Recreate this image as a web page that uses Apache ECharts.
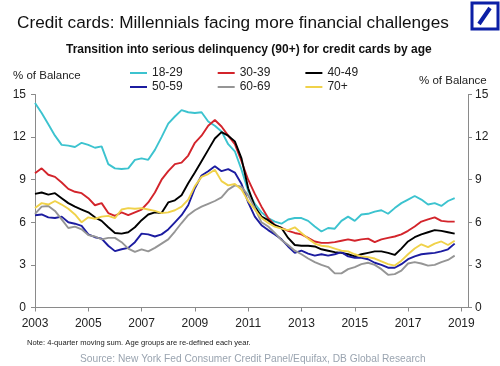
<!DOCTYPE html>
<html>
<head>
<meta charset="utf-8">
<script src="https://cdn.jsdelivr.net/npm/echarts@6/dist/echarts.min.js"></script>
<style>
html,body{margin:0;padding:0;background:#fff;}
#chart{width:500px;height:366px;}
</style>
</head>
<body>
<div id="chart"></div>
<script>
// Quarterly categories 2003Q1 .. 2019Q2 (axis runs slightly past 2019)
var categories = [];
for (var y = 2003; y <= 2019; y++) {
  for (var q = 1; q <= 4; q++) {
    if (y === 2019 && q > 2) break;
    categories.push(y + 'Q' + q);
  }
}
var seriesNames = ['18-29', '30-39', '40-49', '50-59', '60-69', '70+'];
var yTicks = [0, 3, 6, 9, 12, 15];

var age18_29 = [14.4, 13.7, 12.9, 12.1, 11.45, 11.4, 11.3, 11.6, 11.45, 11.25,
  11.35, 10.1, 9.8, 9.75, 9.8, 10.4, 10.5, 10.4, 11.1, 12.0,
  12.95, 13.45, 13.9, 13.75, 13.7, 13.75, 13.1, 12.8, 12.4, 11.5,
  11.0, 9.7, 8.2, 7.3, 6.7, 6.3, 6.05, 5.9, 6.2, 6.3,
  6.3, 6.1, 5.7, 5.35, 5.6, 5.55, 6.1, 6.4, 6.1, 6.55,
  6.6, 6.75, 6.85, 6.6, 7.0, 7.35, 7.6, 7.85, 7.6, 7.25,
  7.35, 7.15, 7.5, 7.7];
var age30_39 = [9.45, 9.8, 9.35, 9.2, 8.8, 8.35, 8.15, 8.05, 7.7, 7.2,
  7.35, 6.65, 6.45, 6.7, 6.5, 6.7, 6.9, 7.4, 8.1, 9.0,
  9.6, 10.1, 10.2, 10.7, 11.6, 12.1, 12.8, 13.2, 12.75, 12.1,
  11.5, 10.3, 9.0, 8.0, 7.1, 6.3, 5.8, 5.6, 5.4, 5.25,
  5.15, 4.9, 4.65, 4.55, 4.55, 4.6, 4.7, 4.8, 4.7, 4.8,
  4.85, 4.6, 4.8, 4.9, 5.0, 5.15, 5.4, 5.7, 6.05, 6.2,
  6.35, 6.1, 6.05, 6.05];
var age40_49 = [8.0, 8.1, 7.95, 8.05, 7.7, 7.35, 7.1, 6.9, 6.7, 6.35,
  6.1, 5.65, 5.25, 5.2, 5.3, 5.65, 6.15, 6.55, 6.7, 6.65,
  7.4, 7.55, 7.9, 8.75, 9.5, 10.3, 11.1, 11.9, 12.35, 12.1,
  11.7, 10.5, 8.4, 7.1, 6.4, 6.15, 5.8, 5.6, 4.9, 4.4,
  4.35, 4.35, 4.3, 4.1, 4.0, 3.9, 3.85, 3.75, 3.6, 3.75,
  3.85, 3.95, 3.95, 3.85, 3.7, 4.15, 4.65, 4.95, 5.15, 5.3,
  5.45, 5.4, 5.3, 5.2];
var age50_59 = [6.5, 6.55, 6.35, 6.3, 6.4, 6.0, 5.9, 5.75, 5.15, 4.95,
  4.85, 4.35, 3.97, 4.1, 4.2, 4.6, 5.2, 5.15, 5.0, 5.15,
  5.5, 6.0, 6.5, 7.2, 8.4, 9.3, 9.6, 9.95, 9.6, 9.75,
  9.5, 8.7, 7.4, 6.4, 5.8, 5.45, 5.15, 4.8, 4.3, 3.85,
  4.0, 3.8, 3.65, 3.75, 3.65, 3.75, 3.9, 3.6, 3.5, 3.5,
  3.4, 3.15, 3.0, 2.8, 2.8, 3.05, 3.4, 3.6, 3.75, 3.8,
  3.85, 3.95, 4.1, 4.5];
var age60_69 = [6.6, 7.1, 7.15, 6.8, 6.2, 5.6, 5.7, 5.5, 5.1, 5.0,
  4.8, 4.9, 4.9, 4.6, 4.15, 3.92, 4.1, 3.95, 4.2, 4.5,
  4.8, 5.35, 5.95, 6.5, 6.85, 7.1, 7.3, 7.5, 7.75, 8.3,
  8.6, 8.5, 7.9, 7.0, 6.0, 5.7, 5.25, 4.75, 4.4, 4.0,
  3.75, 3.45, 3.2, 3.0, 2.85, 2.4, 2.4, 2.7, 2.85, 3.05,
  3.15, 3.0, 2.7, 2.3, 2.35, 2.6, 3.1, 3.2, 3.1, 2.95,
  3.0, 3.2, 3.35, 3.65];
var age70plus = [7.0, 7.35, 7.25, 7.5, 7.25, 6.95, 6.55, 6.0, 6.35, 6.25,
  6.4, 6.45, 6.3, 6.9, 7.0, 6.95, 7.0, 6.9, 6.8, 6.65,
  6.7, 6.85, 7.1, 7.6, 8.55, 9.2, 9.4, 9.7, 8.9, 8.6,
  8.7, 8.3, 7.5, 6.9, 6.3, 5.95, 5.7, 5.55, 5.45, 5.65,
  5.25, 4.85, 4.5, 4.35, 4.3, 4.15, 4.0, 3.95, 3.75, 3.6,
  3.55, 3.45, 3.25, 3.05, 2.95, 3.3, 3.75, 4.15, 4.45, 4.25,
  4.5, 4.65, 4.4, 4.7];

var seriesData = [age18_29, age30_39, age40_49, age50_59, age60_69, age70plus];
var colors = ['#3CC3CF', '#D3242B', '#000000', '#1C1CA0', '#959595', '#F0D24A'];

var FONT = "'Liberation Sans', Arial, sans-serif";
var chart = echarts.init(document.getElementById('chart'), null, {renderer: 'canvas'});

function yAxisDef(pos) {
  return {
    type: 'value', position: pos, min: yTicks[0], max: yTicks[yTicks.length - 1], interval: 3,
    axisLine: {show: true, lineStyle: {color: '#8a8a8a', width: 1}},
    axisTick: {show: true, inside: false, length: 4, lineStyle: {color: '#8a8a8a'}},
    axisLabel: {color: '#222', fontSize: 12, fontFamily: FONT, margin: pos === 'left' ? 9 : 7},
    splitLine: {show: false}
  };
}
function every8(idx) { return idx % 8 === 0; }

var legendBase = {
  icon: 'rect', itemWidth: 17, itemHeight: 2, itemGap: 35, padding: 0,
  textStyle: {color: '#222', fontSize: 12, fontFamily: FONT},
  selectedMode: false
};

var option = {
  backgroundColor: '#fff',
  animation: false,
  color: colors,
  textStyle: {fontFamily: FONT},
  grid: {left: 35, right: 32, top: 94.5, bottom: 58.5, containLabel: false},
  legend: [
    Object.assign({left: 130, top: 67, data: seriesNames.slice(0, 3)}, legendBase),
    Object.assign({left: 130, top: 81, data: seriesNames.slice(3, 6)}, legendBase)
  ],
  xAxis: {
    type: 'category', data: categories, boundaryGap: false,
    axisLine: {show: true, lineStyle: {color: '#8a8a8a', width: 1}},
    axisTick: {show: true, inside: false, length: 4, interval: every8, lineStyle: {color: '#8a8a8a'}},
    axisLabel: {interval: every8, color: '#222', fontSize: 12, fontFamily: FONT, margin: 10,
      formatter: function (v) { return v.slice(0, 4); }},
    splitLine: {show: false}
  },
  yAxis: [yAxisDef('left'), yAxisDef('right')],
  series: seriesNames.map(function (name, i) {
    return {
      name: name, type: 'line', yAxisIndex: 0, data: seriesData[i],
      symbol: 'none', showSymbol: false, smooth: false,
      lineStyle: {width: 1.9, color: colors[i]},
      itemStyle: {color: colors[i]}
    };
  }),
  graphic: [
    {type: 'text', top: 15, left: 17, style: {text: 'Credit cards: Millennials facing more financial challenges', fill: '#111', font: '17.2px ' + FONT}},
    {type: 'text', top: 44, left: 66, style: {text: 'Transition into serious delinquency (90+) for credit cards by age', fill: '#111', font: 'bold 12px ' + FONT}},
    {type: 'text', top: 70, left: 13, style: {text: '% of Balance', fill: '#222', font: '11.5px ' + FONT}},
    {type: 'text', top: 75, left: 419, style: {text: '% of Balance', fill: '#222', font: '11.5px ' + FONT}},
    {type: 'text', top: 339, left: 27, style: {text: 'Note: 4-quarter moving sum. Age groups are re-defined each year.', fill: '#222', font: '7.6px ' + FONT}},
    {type: 'text', top: 354, left: 80, style: {text: 'Source: New York Fed Consumer Credit Panel/Equifax, DB Global Research', fill: '#9aa4b0', font: '10.2px ' + FONT}},
    {type: 'rect', shape: {x: 472, y: 3, width: 26, height: 26}, style: {fill: 'none', stroke: '#0B1FA6', lineWidth: 3}},
    {type: 'line', shape: {x1: 479, y1: 24, x2: 490, y2: 8}, style: {stroke: '#0B1FA6', lineWidth: 4}}
  ]
};
chart.setOption(option);
</script>
</body>
</html>
